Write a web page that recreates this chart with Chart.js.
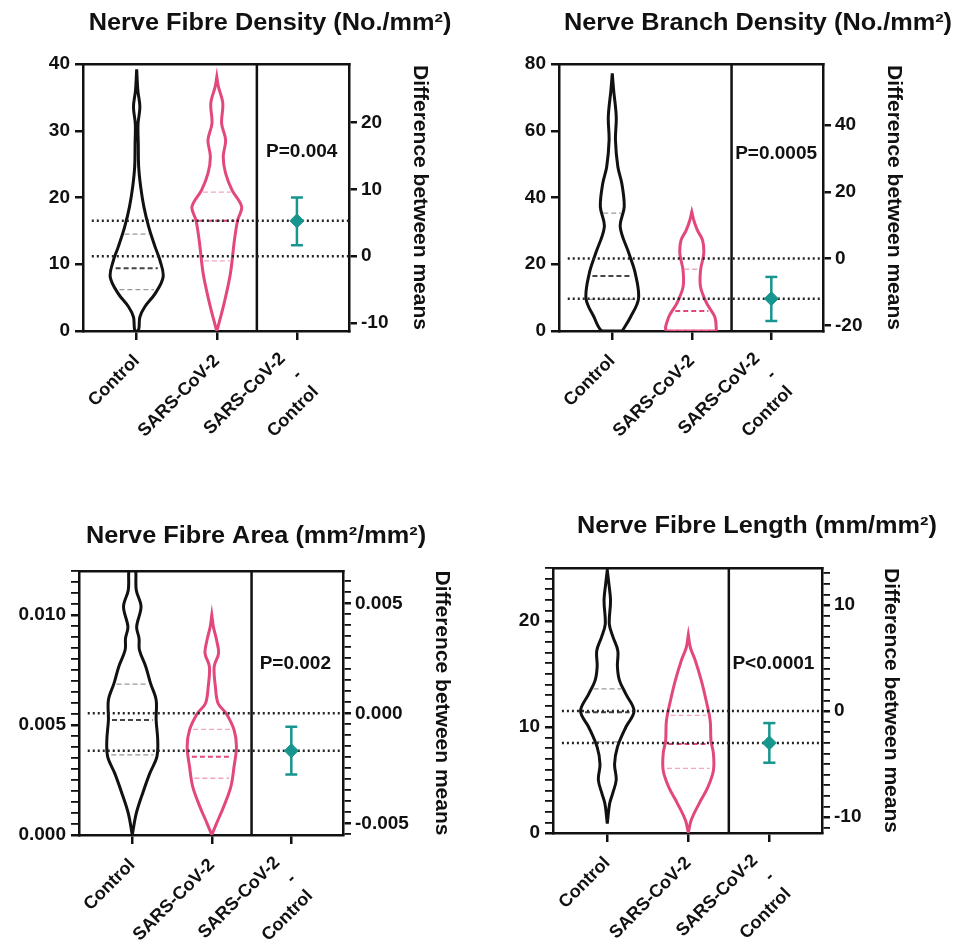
<!DOCTYPE html>
<html>
<head>
<meta charset="utf-8">
<script src="https://cdn.jsdelivr.net/npm/chart.js@4.4.1/dist/chart.umd.min.js"></script>
<style>
  body { margin: 0; background: #fff; width: 962px; height: 949px; position: relative; overflow: hidden; }
  canvas { position: absolute; }
</style>
</head>
<body>
<canvas id="nfd" width="481" height="475" style="left:0;top:0"></canvas>
<canvas id="nbd" width="481" height="475" style="left:481px;top:0"></canvas>
<canvas id="nfa" width="481" height="475" style="left:0;top:475px"></canvas>
<canvas id="nfl" width="481" height="475" style="left:481px;top:475px"></canvas>
<script>
const groupLabels = ["Control", "SARS-CoV-2", ["SARS-CoV-2", "-", "Control"]];
const diffTitle = "Difference between means";

// Nerve Fibre Density
const nfdCtrlY = [0, 0.6, 2.1, 3.6, 5.6, 8.1, 10.6, 12.6, 15.6, 18.6, 21.6, 24.6, 28, 31, 33.6, 36, 39.2];
const nfdCtrlW = [0.02, 0.03, 0.04, 0.1, 0.23, 0.33, 0.29, 0.23, 0.15, 0.09, 0.05, 0.025, 0.02, 0.017, 0.04, 0.015, 0];
const nfdSarsY = [0, 0.6, 4.6, 8.6, 13.6, 16.6, 18.6, 21.1, 23.6, 26.1, 28.6, 31.1, 34.1, 36.6, 38.1];
const nfdSarsW = [0, 0.015, 0.1, 0.17, 0.22, 0.26, 0.31, 0.19, 0.11, 0.08, 0.11, 0.06, 0.075, 0.02, 0];
const nfdCtrlQ = [6.2, 9.4, 14.5];
const nfdSarsQ = [10.5, 16.5, 20.8];
const nfdMeans = [11.2, 16.5];
const nfdDiff = [5.3, 1.65, 8.8];
const nfdLeftTicks = [0, 10, 20, 30, 40];
const nfdRightTicks = [-10, 0, 10, 20];

// Nerve Branch Density
const nbdCtrlY = [0, 4.2, 9.7, 17.2, 23.2, 31.2, 37.2, 44.2, 49.2, 57.2, 64.2, 72.2, 77.2];
const nbdCtrlW = [0.125, 0.23, 0.33, 0.29, 0.21, 0.1, 0.15, 0.12, 0.07, 0.04, 0.05, 0.017, 0];
const nbdSarsY = [0, 4.2, 8.2, 13.2, 18.2, 23.2, 27.2, 30.2, 33.2, 35.7];
const nbdSarsW = [0.31, 0.29, 0.19, 0.11, 0.11, 0.15, 0.135, 0.07, 0.025, 0];
const nbdCtrlQ = [9.5, 16.5, 35.3];
const nbdSarsQ = [0.4, 6.0, 18.5];
const nbdMeans = [21.7, 9.7];
const nbdDiff = [-12.0, -18.7, -5.5];
const nbdLeftTicks = [0, 20, 40, 60, 80];
const nbdRightTicks = [-20, 0, 20, 40];

// Nerve Fibre Area
const nfaCtrlY = [0, 0.00098, 0.00189, 0.0028, 0.00356, 0.00432, 0.00523, 0.00614, 0.00689, 0.00765, 0.00841, 0.00894, 0.00947, 0.01038, 0.01114, 0.0122];
const nfaCtrlW = [0, 0.05, 0.13, 0.22, 0.31, 0.32, 0.3, 0.3, 0.23, 0.17, 0.09, 0.085, 0.055, 0.11, 0.05, 0.035];
const nfaSarsY = [0, 0.00053, 0.00129, 0.0022, 0.00311, 0.00402, 0.00477, 0.00553, 0.00598, 0.00674, 0.00765, 0.00826, 0.00886, 0.00947, 0.01];
const nfaSarsW = [0, 0.06, 0.15, 0.24, 0.28, 0.31, 0.28, 0.18, 0.08, 0.045, 0.03, 0.085, 0.06, 0.02, 0];
const nfaCtrlQ = [0.00364, 0.00523, 0.00686];
const nfaSarsQ = [0.00258, 0.00356, 0.0048];
const nfaMeans = [0.00553, 0.00383];
const nfaDiff = [-0.0017, -0.00278, -0.00061];
const nfaLeftTicks = [0, 0.005, 0.01];
const nfaRightTicks = [-0.005, 0, 0.005];

// Nerve Fibre Length
const nflCtrlY = [0.9, 2.8, 3.7, 5.0, 6.5, 8.1, 10, 11.5, 13.1, 14.4, 15.7, 17.2, 18.5, 19.7, 21.9, 23.5, 24.8];
const nflCtrlW = [0, 0.03, 0.065, 0.11, 0.09, 0.125, 0.23, 0.33, 0.23, 0.15, 0.125, 0.13, 0.07, 0.025, 0.04, 0.02, 0];
const nflSarsY = [0, 1.2, 2.8, 4.3, 5.9, 7.5, 8.7, 10.6, 12.5, 14.4, 16.3, 17.5, 18.7];
const nflSarsW = [0, 0.035, 0.135, 0.24, 0.31, 0.31, 0.28, 0.27, 0.22, 0.16, 0.085, 0.025, 0];
const nflCtrlQ = [8.6, 11.4, 13.6];
const nflSarsQ = [6.1, 8.4, 11.1];
const nflMeans = [11.5, 8.5];
const nflDiff = [-3.0, -4.87, -1.13];
const nflLeftTicks = [0, 10, 20];
const nflRightTicks = [-10, 0, 10];

const INK = "#111111";
const PINK = "#e2487c";
const TEAL = "#17958f";
const FONT = "'Liberation Sans', Arial, sans-serif";
Chart.defaults.font.family = FONT;
Chart.defaults.color = INK;

// draws the panel title and the P value
const panelText = {
  id: "panelText",
  afterDraw(chart, args, opts) {
    const { ctx, scales } = chart;
    ctx.save();
    ctx.fillStyle = INK;
    ctx.textAlign = "center";
    ctx.textBaseline = "middle";
    ctx.font = "bold 23px " + FONT;
    ctx.translate(opts.titleX, opts.titleY);
    ctx.scale(1.1, 1);
    ctx.fillText(opts.title, 0, 0);
    ctx.restore();
    ctx.save();
    ctx.fillStyle = INK;
    ctx.textAlign = "center";
    ctx.textBaseline = "middle";
    ctx.font = "bold 19px " + FONT;
    ctx.fillText(opts.pText, scales.x.getPixelForValue(opts.pX), scales.y.getPixelForValue(opts.pY));
    ctx.restore();
  },
};

// multi-line x labels sit a little higher and to the left, like the original
const centerLines = {
  id: "centerLines",
  beforeDraw(chart) {
    chart.scales.x.getLabelItems(chart.chartArea).forEach((item) => {
      const n = Array.isArray(item.label) ? item.label.length : 1;
      if (item._moved || n < 2) return;
      item.textOffset -= ((n - 1) * item.font.lineHeight) / 4;
      const t = item.options.translation;
      item.options.translation = [t[0] - 6, t[1] + 6];
      item._moved = true;
    });
  },
};

function violinPath(center, levels, widths) {
  const right = levels.map((y, i) => ({ x: center + widths[i], y }));
  const left = levels.map((y, i) => ({ x: center - widths[i], y })).reverse();
  return right.concat(left, [right[0]]);
}

function widthAt(levels, widths, y) {
  for (let i = 1; i < levels.length; i++) {
    if (y <= levels[i]) {
      const t = (y - levels[i - 1]) / (levels[i] - levels[i - 1]);
      return widths[i - 1] + t * (widths[i] - widths[i - 1]);
    }
  }
  return 0;
}

function seg(points, color, width, dash, order, axis) {
  return {
    data: points, showLine: true, borderColor: color, borderWidth: width,
    borderDash: dash || [], pointRadius: 0, tension: 0, order: order,
    yAxisID: axis || "y", fill: false,
  };
}

function stepTicks(min, max, step) {
  const out = [];
  for (let k = Math.ceil(min / step - 1e-6); k <= Math.floor(max / step + 1e-6); k++) out.push(+(k * step).toFixed(6));
  return out;
}

function makePanel(id, p) {
  const base = p.means[0];
  const ds = [];
  ds.push(Object.assign(seg(violinPath(0, p.ctrlY, p.ctrlW), INK, 3, [], 9), { tension: 0.35 }));
  ds.push(Object.assign(seg(violinPath(1, p.sarsY, p.sarsW), PINK, 3, [], 9), { tension: 0.35 }));
  p.ctrlQ.forEach((q, i) => {
    const w = widthAt(p.ctrlY, p.ctrlW, q) * 0.85;
    ds.push(seg([{ x: -w, y: q }, { x: w, y: q }], i === 1 ? "#444" : "#9a9a9a", i === 1 ? 2 : 1.3, [5, 3], 8));
  });
  p.sarsQ.forEach((q, i) => {
    const w = widthAt(p.sarsY, p.sarsW, q) * 0.85;
    ds.push(seg([{ x: 1 - w, y: q }, { x: 1 + w, y: q }], i === 1 ? PINK : "#f2a5bd", i === 1 ? 2 : 1.3, [5, 3], 8));
  });
  ds.push(seg([{ x: 1.5, y: p.yMin }, { x: 1.5, y: p.yMax }], INK, 2.5, [], 7));
  p.means.forEach((m) => {
    ds.push(seg([{ x: -0.56, y: m }, { x: 2.65, y: m }], "#222", 2.5, [2, 3], 6));
  });
  const [d, lo, hi] = p.diff;
  ds.push(seg([{ x: 2, y: lo }, { x: 2, y: hi }], TEAL, 2.5, [], 5, "y2"));
  ds.push(seg([{ x: 1.925, y: hi }, { x: 2.075, y: hi }], TEAL, 2.5, [], 5, "y2"));
  ds.push(seg([{ x: 1.925, y: lo }, { x: 2.075, y: lo }], TEAL, 2.5, [], 5, "y2"));
  ds.push({
    data: [{ x: 2, y: d }], showLine: false, pointStyle: "rectRot", pointRadius: 7,
    backgroundColor: TEAL, borderColor: TEAL, borderWidth: 1, yAxisID: "y2", order: 4,
  });

  const leftVals = p.minor ? stepTicks(p.yMin, p.yMax, p.minor) : p.leftTicks;
  const rightVals = p.minor ? stepTicks(p.yMin - base, p.yMax - base, p.minor) : p.rightTicks;
  const isMajor = (list, v) => list.some((t) => Math.abs(t - v) < 1e-9);
  const fmt = p.fmt || ((v) => String(v));
  const tickFont = { size: 19, weight: "bold" };
  const axisGrid = (list) => ({
    drawOnChartArea: false, drawTicks: true, tickLength: 8, color: INK,
    lineWidth: (c) => (c.tick && isMajor(list, c.tick.value) ? 2.5 : 1.8),
  });

  new Chart(document.getElementById(id), {
    type: "scatter",
    data: { datasets: ds },
    plugins: [panelText, centerLines],
    options: {
      responsive: false, animation: false, devicePixelRatio: 1,
      layout: { padding: { left: 0, top: p.T - 14, right: 481 - p.R - p.rightW, bottom: 0 } },
      plugins: {
        legend: { display: false }, tooltip: { enabled: false },
        panelText: { title: p.title, titleX: p.titleX, titleY: p.titleY, pText: p.pText, pX: p.pX, pY: p.pY },
      },
      scales: {
        x: {
          type: "linear", position: "bottom", min: -0.67, max: 2.65,
          afterBuildTicks: (s) => { s.ticks = [0, 1, 2].map((v) => ({ value: v })); },
          afterFit: (s) => { s.height = 475 - p.B; },
          ticks: { callback: (v) => groupLabels[v], autoSkip: false, minRotation: 45, maxRotation: 45, font: { size: 18, weight: "bold", lineHeight: 1.3 }, padding: 10 },
          grid: { drawOnChartArea: false, drawTicks: true, tickLength: 9, color: INK, lineWidth: 2.5 },
          border: { color: INK, width: 2.5 },
        },
        xTop: {
          type: "linear", position: "top", min: -0.67, max: 2.65,
          afterFit: (s) => { s.height = 14; },
          ticks: { display: false },
          grid: { drawOnChartArea: false, drawTicks: false, color: INK, lineWidth: 2.5 },
          border: { color: INK, width: 2.5 },
        },
        y: {
          position: "left", min: p.yMin, max: p.yMax,
          afterBuildTicks: (s) => { s.ticks = leftVals.map((v) => ({ value: v })); },
          afterFit: (s) => { s.width = p.L; },
          ticks: { autoSkip: false, font: tickFont, padding: 5, callback: (v) => (isMajor(p.leftTicks, v) ? fmt(v) : "") },
          grid: axisGrid(p.leftTicks),
          border: { color: INK, width: 2.5 },
        },
        y2: {
          position: "right", min: p.yMin - base, max: p.yMax - base,
          afterBuildTicks: (s) => { s.ticks = rightVals.map((v) => ({ value: v })); },
          afterFit: (s) => { s.width = p.rightW; },
          ticks: { autoSkip: false, font: tickFont, padding: 4, callback: (v) => (isMajor(p.rightTicks, v) ? fmt(v) : "") },
          grid: axisGrid(p.rightTicks),
          border: { color: INK, width: 2.5 },
          title: { display: true, text: diffTitle, font: { size: 21, weight: "bold" }, padding: 0 },
        },
      },
    },
  });
}

makePanel("nfd", {
  title: "Nerve Fibre Density (No./mm²)", titleX: 270, titleY: 24, pText: "P=0.004", pX: 2.06, pY: 26.8,
  ctrlY: nfdCtrlY, ctrlW: nfdCtrlW, sarsY: nfdSarsY, sarsW: nfdSarsW, ctrlQ: nfdCtrlQ, sarsQ: nfdSarsQ,
  means: nfdMeans, diff: nfdDiff, leftTicks: nfdLeftTicks, rightTicks: nfdRightTicks,
  yMin: 0, yMax: 40, L: 83, R: 349, T: 64, B: 331, rightW: 83,
});
makePanel("nbd", {
  title: "Nerve Branch Density (No./mm²)", titleX: 277, titleY: 24, pText: "P=0.0005", pX: 2.06, pY: 53.2,
  ctrlY: nbdCtrlY, ctrlW: nbdCtrlW, sarsY: nbdSarsY, sarsW: nbdSarsW, ctrlQ: nbdCtrlQ, sarsQ: nbdSarsQ,
  means: nbdMeans, diff: nbdDiff, leftTicks: nbdLeftTicks, rightTicks: nbdRightTicks,
  yMin: 0, yMax: 80, L: 78, R: 342, T: 64, B: 331, rightW: 83,
});
makePanel("nfa", {
  title: "Nerve Fibre Area (mm²/mm²)", titleX: 256, titleY: 62, pText: "P=0.002", pX: 2.05, pY: 0.00777,
  ctrlY: nfaCtrlY, ctrlW: nfaCtrlW, sarsY: nfaSarsY, sarsW: nfaSarsW, ctrlQ: nfaCtrlQ, sarsQ: nfaSarsQ,
  means: nfaMeans, diff: nfaDiff, leftTicks: nfaLeftTicks, rightTicks: nfaRightTicks,
  minor: 0.0005, fmt: (v) => v.toFixed(3),
  yMin: 0, yMax: 0.012, L: 79, R: 343, T: 96, B: 360, rightW: 111,
});
makePanel("nfl", {
  title: "Nerve Fibre Length (mm/mm²)", titleX: 276, titleY: 52, pText: "P<0.0001", pX: 2.05, pY: 16.0,
  ctrlY: nflCtrlY, ctrlW: nflCtrlW, sarsY: nflSarsY, sarsW: nflSarsW, ctrlQ: nflCtrlQ, sarsQ: nflSarsQ,
  means: nflMeans, diff: nflDiff, leftTicks: nflLeftTicks, rightTicks: nflRightTicks,
  minor: 1,
  yMin: 0, yMax: 25, L: 72, R: 341, T: 93, B: 358, rightW: 81,
});
</script>
</body>
</html>
